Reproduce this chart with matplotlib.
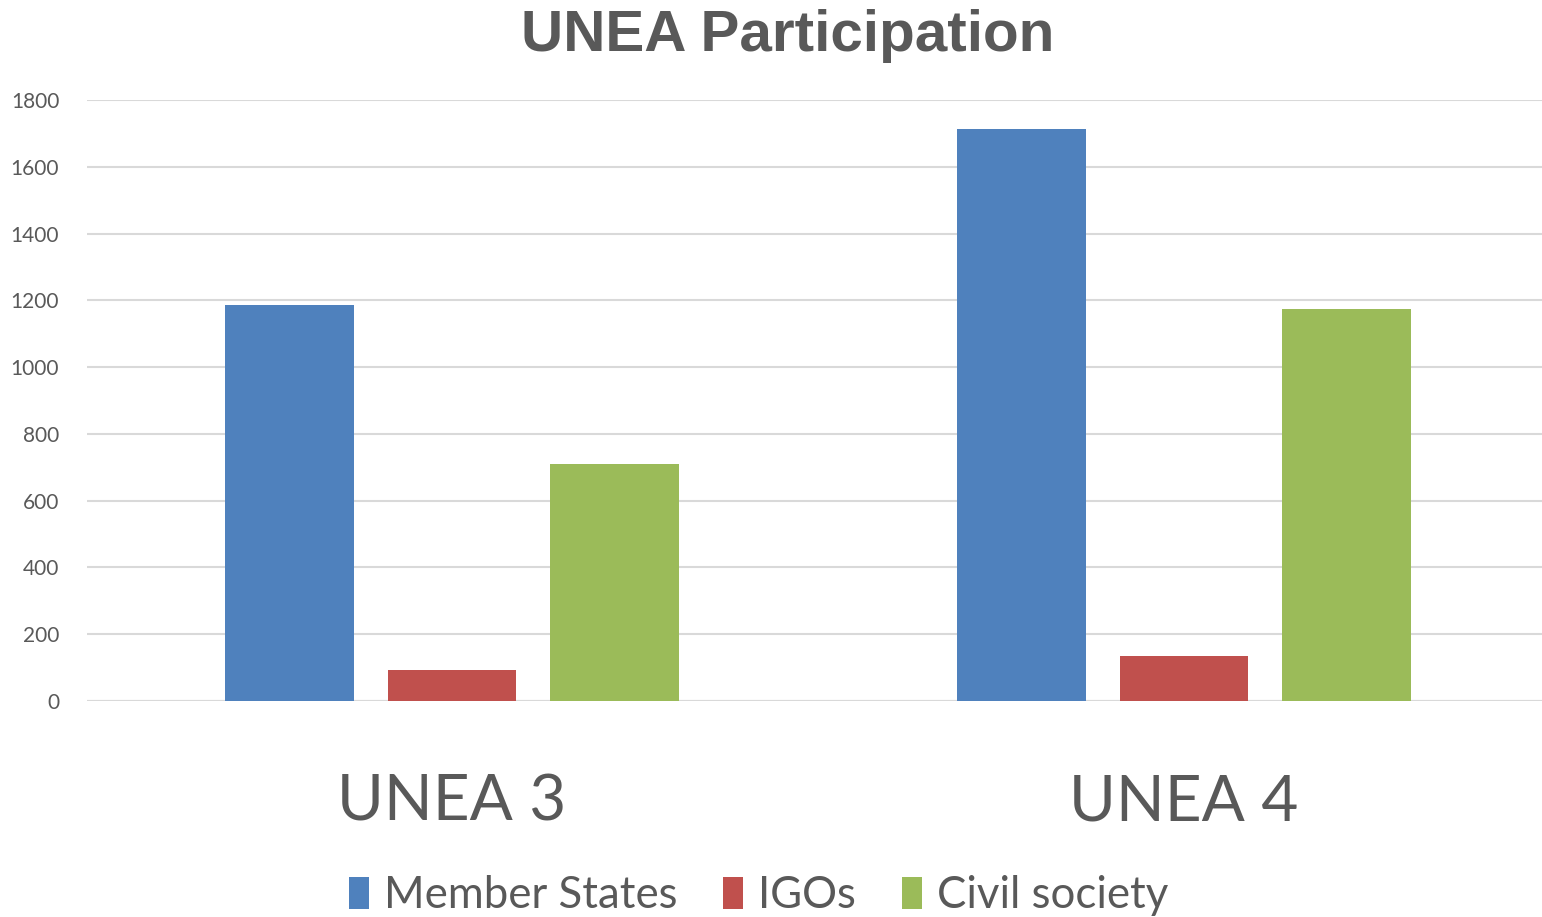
import numpy as np
import matplotlib
matplotlib.use("Agg")
import matplotlib.pyplot as plt

# data
categories = ["UNEA 3", "UNEA 4"]
member_states = [1186, 1713]
igos = [94, 136]
civil_society = [711, 1175]
series_names = ["Member States", "IGOs", "Civil society"]
colors = ["#4F81BD", "#C0504D", "#9BBB59"]
yticks = [0, 200, 400, 600, 800, 1000, 1200, 1400, 1600, 1800]

text_color = "#595959"
plt.rcParams['font.family'] = ['Lato', 'DejaVu Sans']

fig = plt.figure(figsize=(15.42, 9.17), dpi=100)
ax = fig.add_axes([0.0564, 0.2356, 0.9436, 0.6554])

x = np.arange(len(categories))
width = 0.175
offset = 0.222
for i, (vals, name, c) in enumerate(zip([member_states, igos, civil_society], series_names, colors)):
    ax.bar(x + (i - 1) * offset, vals, width, color=c, label=name, zorder=3)

ax.set_xlim(-0.4986, 1.489)
ax.set_ylim(0, 1800)
ax.set_yticks(yticks)
ax.yaxis.grid(True, color="#D9D9D9", linewidth=1.5, zorder=0)
ax.tick_params(axis='y', length=0, pad=20, labelsize=15, labelcolor=text_color)
ax.set_xticks(x)
ax.set_xticklabels(categories, fontsize=46, color=text_color)
ax.tick_params(axis='x', length=0, pad=52)
for s in ax.spines.values():
    s.set_visible(False)
ax.axhline(0, color="#D9D9D9", linewidth=1.5, zorder=2)

fig.suptitle("UNEA Participation", fontsize=42, fontweight='bold', color=text_color,
             family='Liberation Sans', x=0.511, y=0.99)

leg = fig.legend(loc='lower center', bbox_to_anchor=(0.492, -0.042), ncol=3, frameon=False,
                 fontsize=31.5, handlelength=0.45, handleheight=0.75, handletextpad=0.35,
                 columnspacing=1.05, labelcolor=text_color)

fig.savefig("out.png", dpi=100)
